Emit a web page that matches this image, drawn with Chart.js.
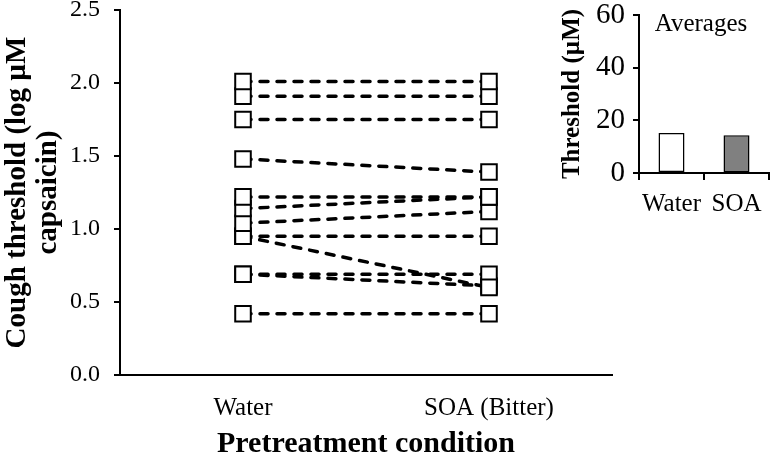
<!DOCTYPE html>
<html>
<head>
<meta charset="utf-8">
<script src="https://cdn.jsdelivr.net/npm/chart.js@4.4.1/dist/chart.umd.min.js"></script>
<style>
    body { margin: 0; background: #ffffff; }
    #quadro { position: relative; width: 771px; height: 456px; }
    #graficoPrincipal { position: absolute; left: 0; top: 0; }
    #graficoMedias { position: absolute; left: 540px; top: 0; }
</style>
</head>
<body>
<div id="quadro">
    <canvas id="graficoPrincipal" width="771" height="456"></canvas>
    <canvas id="graficoMedias" width="231" height="230"></canvas>
</div>
<script>
// paired cough thresholds per subject (log uM capsaicin)
const conditions = ["Water", "SOA (Bitter)"];
const waterThreshold = [2.01, 1.91, 1.75, 1.48, 1.22, 1.14, 1.04, 0.95, 0.95, 0.69, 0.69, 0.42];
const soaThreshold = [2.01, 1.91, 1.75, 1.39, 1.22, 1.22, 1.12, 0.95, 0.60, 0.69, 0.61, 0.42];

// inset: average thresholds (uM)
const averageGroups = ["Water", "SOA"];
const averageThreshold = [15.2, 14.3];
const averageColors = ["#ffffff", "#808080"];

const serif = "'Liberation Serif', 'Times New Roman', serif";

const pares = waterThreshold.map((valor, i) => ({
    data: [valor, soaThreshold[i]],
    borderColor: "#000000",
    borderWidth: 3.5,
    borderDash: [8, 9],
    borderCapStyle: "round",
    pointStyle: "rect",
    pointRadius: 11,
    pointBorderWidth: 2,
    pointBorderColor: "#000000",
    pointBackgroundColor: "#ffffff",
    fill: false,
    tension: 0
}));

new Chart(document.getElementById("graficoPrincipal"), {
    type: "line",
    data: {
        labels: conditions,
        datasets: pares
    },
    options: {
        responsive: false,
        animation: false,
        layout: {
            autoPadding: false,
            padding: { left: 0, right: 159, top: 10, bottom: 0 }
        },
        scales: {
            x: {
                offset: true,
                grid: { display: false },
                border: { display: true, color: "#000000", width: 2 },
                ticks: {
                    color: "#000000",
                    padding: 10,
                    maxRotation: 0,
                    autoSkip: false,
                    font: { family: serif, size: 25 }
                },
                title: {
                    display: true,
                    text: "Pretreatment condition",
                    color: "#000000",
                    padding: { top: 0, bottom: 0 },
                    font: { family: serif, size: 30, weight: "bold", lineHeight: 0.8 }
                },
                afterFit: (escala) => { escala.height = 81; }
            },
            y: {
                min: 0,
                max: 2.5,
                grid: {
                    display: true,
                    drawOnChartArea: false,
                    drawTicks: true,
                    tickLength: 6,
                    color: "#000000",
                    lineWidth: 2
                },
                border: { display: true, color: "#000000", width: 2 },
                ticks: {
                    stepSize: 0.5,
                    color: "#000000",
                    padding: 14,
                    font: { family: serif, size: 24 },
                    callback: (valor) => Number(valor).toFixed(1)
                },
                title: {
                    display: true,
                    text: ["Cough threshold (log µM", "capsaicin)"],
                    color: "#000000",
                    padding: { top: 2, bottom: 0 },
                    font: { family: serif, size: 29, weight: "bold", lineHeight: 1.07 }
                },
                afterFit: (escala) => {
                    escala.width = 120;
                    escala.paddingTop = 0;
                    escala.paddingBottom = 0;
                }
            }
        },
        plugins: {
            legend: { display: false },
            tooltip: { enabled: false }
        }
    }
});

const rotuloMedias = {
    id: "rotuloMedias",
    afterDraw(chart) {
        const { ctx, chartArea } = chart;
        ctx.save();
        ctx.font = "25px " + serif;
        ctx.fillStyle = "#000000";
        ctx.textAlign = "center";
        ctx.textBaseline = "middle";
        ctx.fillText("Averages", (chartArea.left + chartArea.right) / 2 - 3, chartArea.top + 9);
        ctx.restore();
    }
};

new Chart(document.getElementById("graficoMedias"), {
    type: "bar",
    data: {
        labels: averageGroups,
        datasets: [
            {
                data: averageThreshold,
                backgroundColor: averageColors,
                borderColor: "#000000",
                borderWidth: 1.5,
                borderSkipped: false,
                categoryPercentage: 1,
                barPercentage: 0.4
            }
        ]
    },
    options: {
        responsive: false,
        animation: false,
        layout: {
            autoPadding: false,
            padding: { left: 0, right: 2, top: 15, bottom: 0 }
        },
        scales: {
            x: {
                grid: {
                    display: true,
                    offset: true,
                    drawOnChartArea: false,
                    drawTicks: true,
                    tickLength: 7,
                    color: "#000000",
                    lineWidth: 2
                },
                border: { display: true, color: "#000000", width: 2 },
                ticks: {
                    color: "#000000",
                    padding: 9,
                    maxRotation: 0,
                    autoSkip: false,
                    font: { family: serif, size: 25 }
                },
                afterFit: (escala) => {
                    escala.height = 57;
                    escala.paddingLeft = 0;
                    escala.paddingRight = 0;
                }
            },
            y: {
                min: 0,
                max: 60,
                grid: {
                    display: true,
                    drawOnChartArea: false,
                    drawTicks: true,
                    tickLength: 6,
                    color: "#000000",
                    lineWidth: 2
                },
                border: { display: true, color: "#000000", width: 2 },
                ticks: {
                    stepSize: 20,
                    color: "#000000",
                    padding: 8,
                    font: { family: serif, size: 29 }
                },
                title: {
                    display: true,
                    text: "Threshold (µM)",
                    color: "#000000",
                    padding: { top: 18, bottom: 0 },
                    font: { family: serif, size: 25, weight: "bold", lineHeight: 1.2 }
                },
                afterFit: (escala) => {
                    escala.width = 99;
                    escala.paddingTop = 0;
                    escala.paddingBottom = 0;
                }
            }
        },
        plugins: {
            legend: { display: false },
            tooltip: { enabled: false }
        }
    },
    plugins: [rotuloMedias]
});
</script>
</body>
</html>
